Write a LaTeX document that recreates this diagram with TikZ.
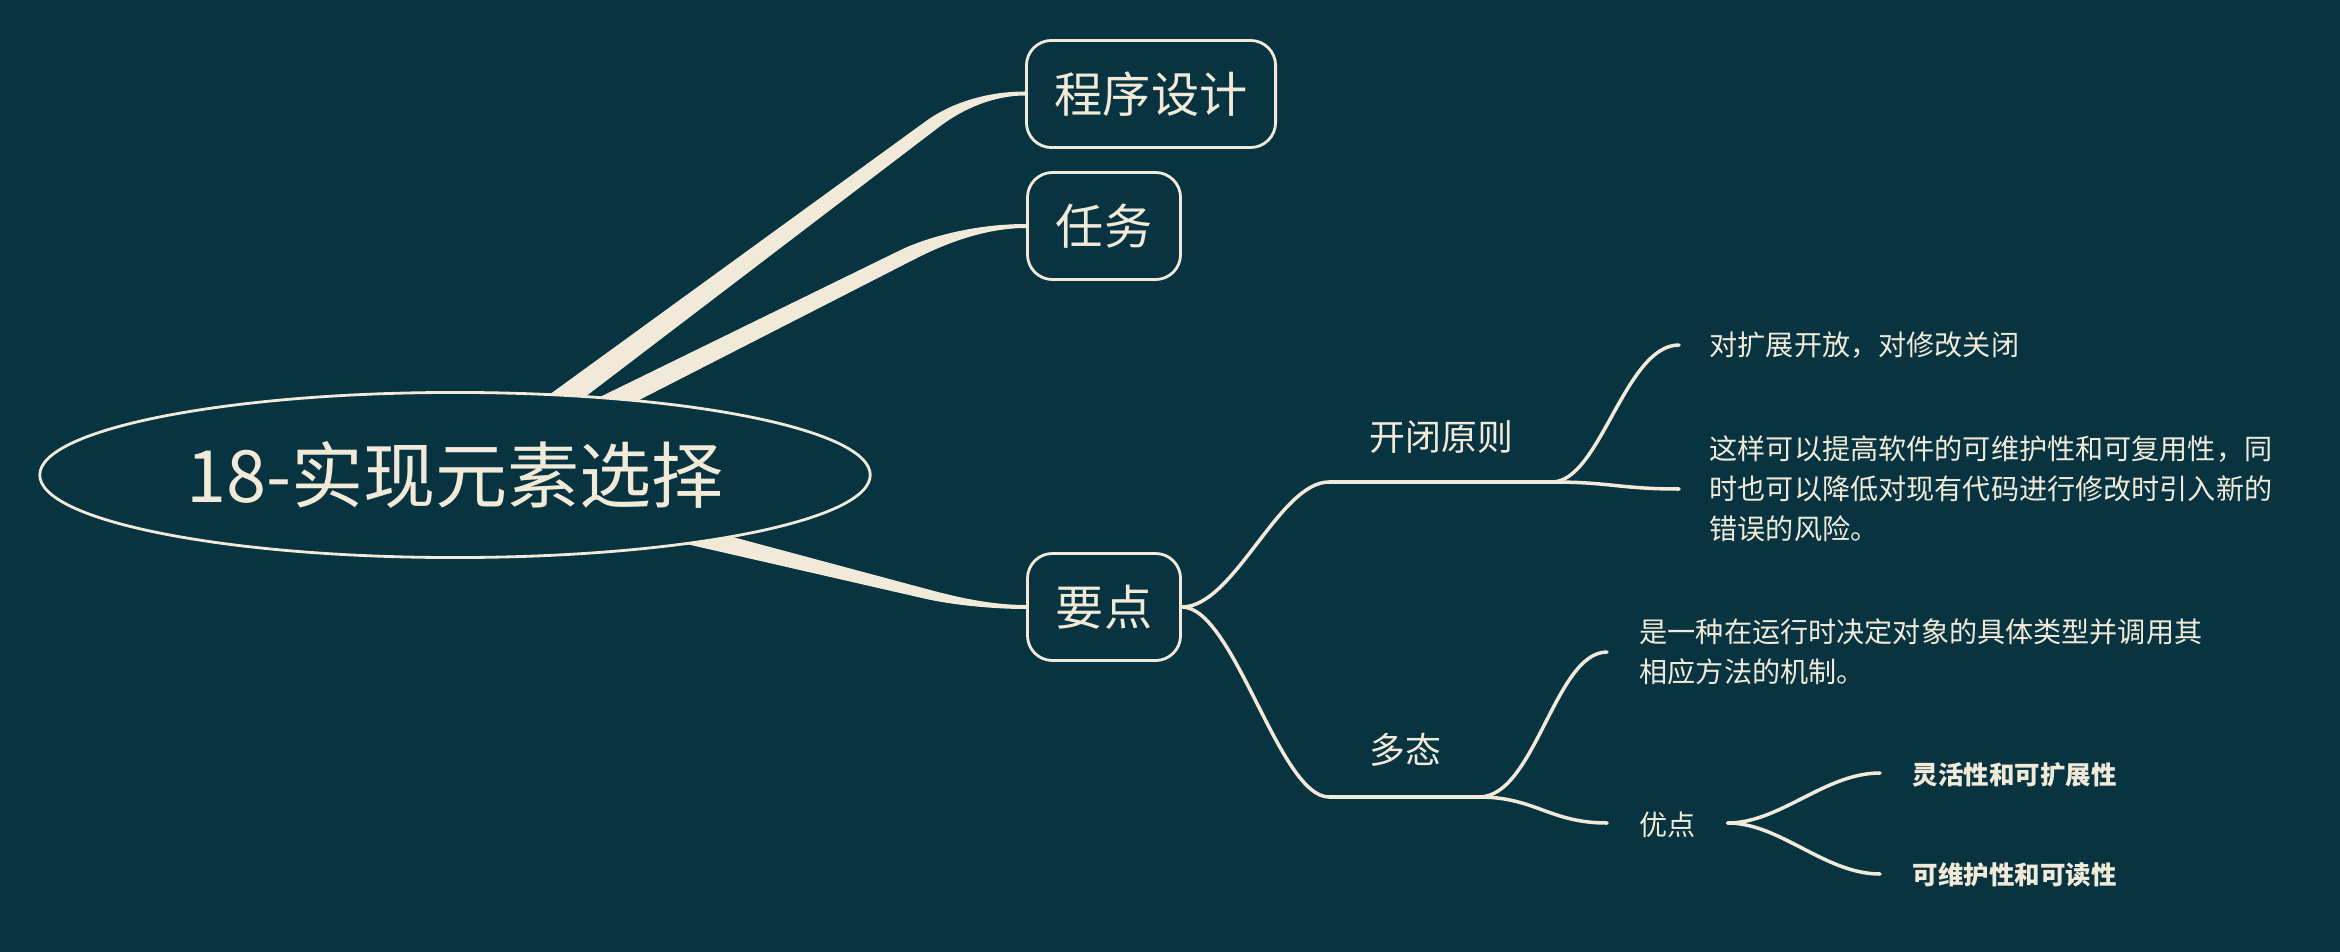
\documentclass[tikz,border=0pt]{standalone}
\usepackage{fontspec}
\setmainfont{Noto Sans CJK SC}
\usetikzlibrary{shapes.geometric,calc}
\definecolor{bg}{HTML}{083340}
\definecolor{cream}{HTML}{F1EAD8}
\pgfdeclarelayer{back}
\pgfsetlayers{back,main}
\begin{document}
\begin{tikzpicture}[x=0.01cm,y=-0.01cm,
  mainbox/.style={draw=cream, fill=bg, line width=0.8pt, rounded corners=0.25cm,
    minimum height=1.07cm, inner sep=0, text=cream, font=\fontsize{13.7}{16}\selectfont},
  sub/.style={text=cream, inner sep=0, anchor=west, font=\fontsize{10.2}{12}\selectfont},
  leaf/.style={text=cream, inner sep=0, anchor=west, align=left, font=\fontsize{8}{11.4}\selectfont},
  leafb/.style={text=cream, inner sep=0, anchor=west, font=\fontsize{7.25}{10}\selectfont\bfseries},
  conn/.style={draw=cream, line width=1pt, line cap=round},
  branch/.style={fill=cream}]
\useasboundingbox (0,0) rectangle (2340,952);

% nodes
\node[ellipse, draw=cream, fill=bg, line width=0.8pt, minimum width=8.3cm, minimum height=1.65cm,
  inner sep=0, text=cream, font=\fontsize{20.5}{24}\selectfont] (root) at (455,475) {18-实现元素选择};
\node[mainbox, minimum width=2.49cm] (prog) at (1151,94) {程序设计};
\node[mainbox, minimum width=1.53cm] (task) at (1104,226) {任务};
\node[mainbox, minimum width=1.53cm] (key) at (1104,607) {要点};

\node[sub] (ocp) at (1369,437) {开闭原则};
\node[sub] (poly) at (1369,750) {多态};

\node[leaf] (ocp1) at (1709,345) {对扩展开放，对修改关闭};
\node[leaf] (ocp2) at (1709,489) {这样可以提高软件的可维护性和可复用性，同\\时也可以降低对现有代码进行修改时引入新的\\错误的风险。};
\node[leaf] (poly1) at (1639,652) {是一种在运行时决定对象的具体类型并调用其\\相应方法的机制。};
\node[leaf] (adv) at (1639,825) {优点};
\node[leafb] (adv1) at (1912,775) {灵活性和可扩展性};
\node[leafb] (adv2) at (1912,875) {可维护性和可读性};

% named connector points
\coordinate (ocpL) at (1329,482);
\coordinate (ocpR) at (1552,482);
\coordinate (polyL) at (1329,797);
\coordinate (polyR) at (1479,797);
\coordinate (ocp1c) at ($(ocp1.west)+(-30,0)$);
\coordinate (ocp2c) at ($(ocp2.west)+(-30,0)$);
\coordinate (poly1c) at ($(poly1.west)+(-32,0)$);
\coordinate (advc) at ($(adv.west)+(-32,-2)$);
\coordinate (advR) at ($(adv.east)+(31,-2)$);
\coordinate (adv1c) at ($(adv1.west)+(-32,-2)$);
\coordinate (adv2c) at ($(adv2.west)+(-32,-1)$);

\begin{pgfonlayer}{back}
\fill[bg] (0,0) rectangle (2340,952);
% tapered main branches
\fill[branch] (542,400) -- (925,121.8) .. controls (949,104) and (985,91.5) .. ($(prog.west)+(0,-2.5)$)
  -- ($(prog.west)+(0,1.5)$) .. controls (995,95.5) and (964,108) .. (940,126.3) -- (581,400) -- cycle;
\fill[branch] (585.6,404) -- (900,250.3) .. controls (922,239.5) and (970,224) .. ($(task.west)+(0,-2)$)
  -- ($(task.west)+(0,2)$) .. controls (980,228) and (937,247.8) .. (915,259) -- (631.3,404) -- cycle;
\fill[branch] (720,533.6) -- (930,589.9) .. controls (955,596.6) and (990,605) .. ($(key.west)+(0,-2)$)
  -- ($(key.west)+(0,2)$) .. controls (990,609) and (950,604.4) .. (925,598.7) -- (675,541.4) -- cycle;
\end{pgfonlayer}

% thin connectors
\draw[conn] (key.east) .. controls (1234,607) and (1279,482) .. (ocpL) -- (ocpR);
\draw[conn] (ocpR) .. controls (1600,482) and (1625,345) .. (ocp1c);
\draw[conn] (ocpR) .. controls (1610,482) and (1620,489) .. (ocp2c);
\draw[conn] (key.east) .. controls (1234,607) and (1279,797) .. (polyL) -- (polyR);
\draw[conn] (polyR) .. controls (1535,797) and (1555,652) .. (poly1c);
\draw[conn] (polyR) .. controls (1535,797) and (1550,823) .. (advc);
\draw[conn] (advR) .. controls (1780,823) and (1825,773) .. (adv1c);
\draw[conn] (advR) .. controls (1780,823) and (1825,874) .. (adv2c);
\end{tikzpicture}
\end{document}
